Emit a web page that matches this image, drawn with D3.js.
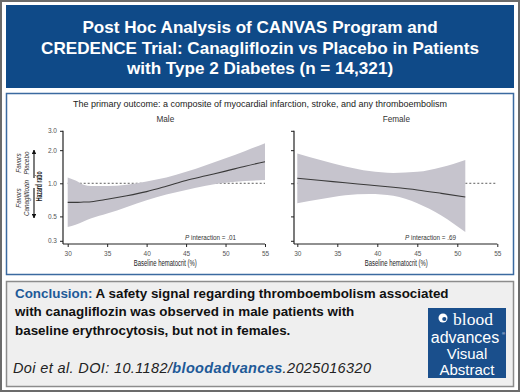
<!DOCTYPE html>
<html>
<head>
<meta charset="utf-8">
<script src="https://cdn.jsdelivr.net/npm/d3@7"></script>
<style>
  body { margin: 0; background: #fff; }
  svg { display: block; font-family: "Liberation Sans", Arial, sans-serif; }
</style>
</head>
<body>
<div id="chart"></div>
<script>
// chart data
var titleLines = ["Post Hoc Analysis of CANVAS Program and",
    "CREDENCE Trial: Canagliflozin vs Placebo in Patients",
    "with Type 2 Diabetes (n = 14,321)"];
var outcome = "The primary outcome: a composite of myocardial infarction, stroke, and any thromboembolism";
var xTicks = [30, 35, 40, 45, 50, 55];
var yTicks = [0.3, 0.5, 1.0, 2.0, 3.0];

// male: hematocrit, hazard ratio, lower CI, upper CI
var maleHct = [30, 31, 32, 33, 35, 37.5, 40, 42.5, 45, 47.5, 50, 52.5, 55];
var maleHR = [0.67, 0.67, 0.675, 0.68, 0.715, 0.77, 0.84, 0.94, 1.06, 1.17, 1.29, 1.43, 1.57];
var maleLow = [0.40, 0.42, 0.45, 0.48, 0.53, 0.61, 0.70, 0.79, 0.87, 0.95, 1.01, 1.05, 1.07];
var maleHigh = [1.13, 1.06, 0.97, 0.945, 0.945, 0.97, 1.04, 1.13, 1.27, 1.46, 1.69, 1.97, 2.31];

// female
var femaleHct = [30, 33, 36, 39, 42, 45, 48, 51];
var femaleHR = [1.11, 1.06, 1.01, 0.965, 0.92, 0.87, 0.81, 0.75];
var femaleLow = [0.66, 0.72, 0.78, 0.80, 0.77, 0.66, 0.51, 0.36];
var femaleHigh = [1.87, 1.62, 1.42, 1.29, 1.24, 1.27, 1.40, 1.63];

var svg = d3.select("#chart").append("svg")
    .attr("width", 520)
    .attr("height", 392);

var blue = "#0f4a88";

// outer frame
svg.append("rect").attr("x", 1).attr("y", 1).attr("width", 518).attr("height", 390)
    .attr("fill", "#fff").attr("stroke", "#6b6b6b").attr("stroke-width", 2);

// header
svg.append("rect").attr("x", 6).attr("y", 5).attr("width", 508).attr("height", 83)
    .attr("fill", blue);
svg.append("g").selectAll("text")
    .data(titleLines)
    .enter().append("text")
    .attr("x", 260)
    .attr("y", function (d, i) { return 33 + i * 20.5; })
    .attr("text-anchor", "middle")
    .attr("fill", "#fff")
    .attr("font-weight", "bold")
    .attr("font-size", 17.1)
    .text(function (d) { return d; });

// chart panel
svg.append("rect").attr("x", 6.5).attr("y", 93.5).attr("width", 507).attr("height", 181)
    .attr("fill", "#fff").attr("stroke", "#3b6aa0").attr("stroke-width", 1.5);

svg.append("text").attr("x", 260).attr("y", 107).attr("text-anchor", "middle")
    .attr("font-size", 9).attr("fill", "#222").text(outcome);

// conclusion panel
svg.append("rect").attr("x", 6.5).attr("y", 281.5).attr("width", 507).attr("height", 105)
    .attr("fill", "#efefef").attr("stroke", "#8c8c8c").attr("stroke-width", 1.5);

var y = d3.scaleLog().domain([0.3, 3]).range([240.8, 130.8]);

function panel(opts) {
    var g = svg.append("g");
    var x = d3.scaleLinear().domain([30, 55]).range([opts.x0, opts.x1]);
    var rows = opts.hct.map(function (h, i) {
        return { h: h, hr: opts.hr[i], lo: opts.lo[i], hi: opts.hi[i] };
    });

    // reference line at HR = 1
    g.append("line")
        .attr("x1", x(30)).attr("x2", x(55))
        .attr("y1", y(1)).attr("y2", y(1))
        .attr("stroke", "#333").attr("stroke-width", 0.8)
        .attr("stroke-dasharray", "2,2");

    // confidence band
    g.append("path")
        .datum(rows)
        .attr("fill", "#c6c4cd")
        .attr("d", d3.area()
            .curve(d3.curveMonotoneX)
            .x(function (d) { return x(d.h); })
            .y0(function (d) { return y(d.lo); })
            .y1(function (d) { return y(d.hi); }));

    // hazard ratio
    g.append("path")
        .datum(rows)
        .attr("fill", "none")
        .attr("stroke", "#3a3a3a")
        .attr("stroke-width", 1.1)
        .attr("d", d3.line()
            .curve(d3.curveMonotoneX)
            .x(function (d) { return x(d.h); })
            .y(function (d) { return y(d.hr); }));

    // axes
    var xAxis = g.append("g")
        .attr("transform", "translate(0,244)")
        .call(d3.axisBottom(x).tickValues(xTicks).tickSize(3).tickPadding(4));
    xAxis.select(".domain").remove();
    xAxis.selectAll("text").attr("font-size", 6.5).attr("fill", "#555")
        .attr("font-family", "Liberation Sans, sans-serif");
    xAxis.selectAll("line").attr("stroke", "#222");
    g.append("line").attr("x1", opts.ax).attr("x2", x(55)).attr("y1", 244).attr("y2", 244)
        .attr("stroke", "#222").attr("stroke-width", 1.2);

    var yAxis = g.append("g")
        .attr("transform", "translate(" + opts.ax + ",0)")
        .call(d3.axisLeft(y).tickValues(yTicks).tickSize(3).tickPadding(3)
            .tickFormat(opts.labels ? d3.format(".1f") : ""));
    yAxis.select(".domain").remove();
    yAxis.selectAll("text").attr("font-size", 6.5).attr("fill", "#555")
        .attr("font-family", "Liberation Sans, sans-serif");
    yAxis.selectAll("line").attr("stroke", "#222");
    g.append("line").attr("x1", opts.ax).attr("x2", opts.ax).attr("y1", y(3)).attr("y2", 244)
        .attr("stroke", "#222").attr("stroke-width", 1.2);

    g.append("text")
        .attr("x", (x(30) + x(55)) / 2 - 1).attr("y", 265.5)
        .attr("text-anchor", "middle").attr("font-size", 8.5).attr("fill", "#222")
        .attr("textLength", 63).attr("lengthAdjust", "spacingAndGlyphs")
        .text("Baseline hematocrit (%)");

    g.append("text")
        .attr("x", (x(30) + x(55)) / 2 - 1).attr("y", 122)
        .attr("text-anchor", "middle").attr("font-size", 8.2).attr("fill", "#333")
        .text(opts.name);

    var p = g.append("text")
        .attr("x", opts.px).attr("y", 239.5)
        .attr("text-anchor", "end").attr("font-size", 6.3).attr("fill", "#333");
    p.append("tspan").attr("font-style", "italic").text("P");
    p.append("tspan").text(" interaction = " + opts.p);
}

panel({ name: "Male", hct: maleHct, hr: maleHR, lo: maleLow, hi: maleHigh,
    x0: 67.7, x1: 265, ax: 63, labels: true, px: 236, p: ".01" });
panel({ name: "Female", hct: femaleHct, hr: femaleHR, lo: femaleLow, hi: femaleHigh,
    x0: 297.3, x1: 497.3, ax: 294, labels: false, px: 456, p: ".69" });

// y-axis title and favour arrows
var defs = svg.append("defs");
defs.append("marker").attr("id", "head")
    .attr("viewBox", "0 0 10 10").attr("refX", 9).attr("refY", 5)
    .attr("markerWidth", 4).attr("markerHeight", 4).attr("orient", "auto")
    .append("path").attr("d", "M0,0L10,5L0,10Z").attr("fill", "#111");

svg.append("text")
    .attr("transform", "translate(42," + (y(1) + 3) + ") rotate(-90)")
    .attr("text-anchor", "middle").attr("font-size", 8.5).attr("font-weight", "bold")
    .attr("textLength", 30).attr("lengthAdjust", "spacingAndGlyphs")
    .attr("fill", "#222").text("Hazard ratio");

svg.append("line").attr("x1", 34).attr("x2", 34).attr("y1", 178).attr("y2", 150)
    .attr("stroke", "#111").attr("stroke-width", 1.1).attr("marker-end", "url(#head)");
svg.append("line").attr("x1", 34).attr("x2", 34).attr("y1", 188).attr("y2", 218)
    .attr("stroke", "#111").attr("stroke-width", 1.1).attr("marker-end", "url(#head)");

function favors(cy, second) {
    var t = svg.append("text")
        .attr("transform", "translate(21," + cy + ") rotate(-90)")
        .attr("text-anchor", "middle").attr("font-size", 6.3).attr("font-style", "italic")
        .attr("fill", "#333");
    t.append("tspan").attr("x", 0).attr("dy", 0).text("Favors");
    t.append("tspan").attr("x", 0).attr("dy", 7.5).text(second);
}
favors(163, "Placebo");
favors(198, "Canagliflozin");

// conclusion text
var concl = [
    [["Conclusion:", "#1e5a98"], [" A safety signal regarding thromboembolism associated", "#111"]],
    [["with canagliflozin was observed in male patients with", "#111"]],
    [["baseline erythrocytosis, but not in females.", "#111"]]
];
concl.forEach(function (line, i) {
    var t = svg.append("text").attr("x", 15).attr("y", 298 + i * 18.3)
        .attr("font-size", 13.4).attr("font-weight", "bold");
    line.forEach(function (part) {
        t.append("tspan").attr("fill", part[1]).text(part[0]);
    });
});

var cite = svg.append("text").attr("x", 13).attr("y", 373)
    .attr("font-size", 14.5).attr("font-style", "italic").attr("fill", "#222")
    .attr("textLength", 358);
cite.append("tspan").text("Doi et al. DOI: 10.1182/");
cite.append("tspan").attr("font-weight", "bold").attr("fill", "#1e5a98").text("bloodadvances");
cite.append("tspan").text(".2025016320");

// journal badge
svg.append("rect").attr("x", 428).attr("y", 308).attr("width", 78).attr("height", 70)
    .attr("fill", "#1a4f8c");
svg.append("circle").attr("cx", 443).attr("cy", 318).attr("r", 4.5).attr("fill", "#fff");
svg.append("circle").attr("cx", 444.3).attr("cy", 319).attr("r", 2.1).attr("fill", "#1a4f8c");
svg.append("text").attr("x", 473).attr("y", 325).attr("text-anchor", "middle")
    .attr("font-family", "Liberation Serif, serif").attr("font-size", 17.5).attr("fill", "#fff")
    .text("blood");
svg.append("text").attr("x", 465).attr("y", 343).attr("text-anchor", "middle")
    .attr("font-size", 16).attr("fill", "#fff").text("advances");
svg.append("text").attr("x", 502).attr("y", 335).attr("font-size", 4).attr("fill", "#fff").text("®");
svg.append("text").attr("x", 467).attr("y", 358.5).attr("text-anchor", "middle")
    .attr("font-size", 15).attr("fill", "#fff").text("Visual");
svg.append("text").attr("x", 467).attr("y", 374.5).attr("text-anchor", "middle")
    .attr("font-size", 15).attr("fill", "#fff").text("Abstract");
</script>
</body>
</html>
